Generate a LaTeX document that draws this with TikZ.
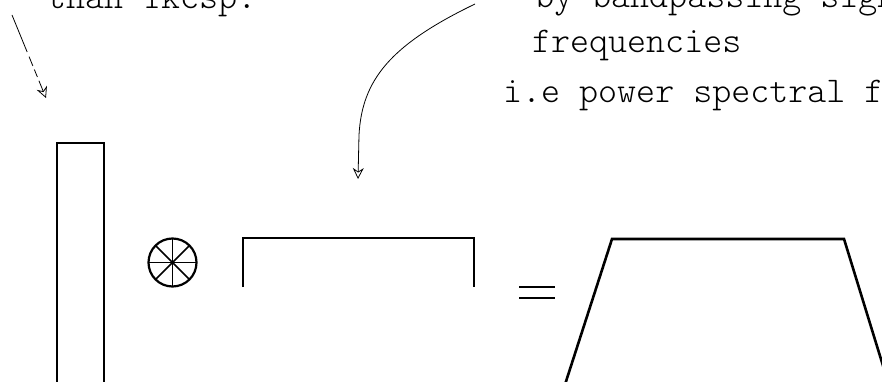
\documentclass[tikz,border=0pt]{standalone}
\usepackage{tikz}
\usetikzlibrary{
  arrows.meta,
  positioning
}

\begin{document}
\begin{tikzpicture}[x=1pt, y=-1pt,
    every node/.style={font=\ttfamily\fontseries{l}\fontsize{36.2}{40}\selectfont, inner sep=0pt, anchor=base west},
    shape line/.style={line width=2.2pt, line cap=butt},
    note arrow/.style={line width=0.8pt, -{Stealth[open, length=11pt, width=11pt]}}]
                    \useasboundingbox (0,0) rectangle (882,382);
                    \clip (0,0) rectangle (882,382);
                    
                    % Cut-off note text
                    \node (textA) at (47,9) {than 1kcsp.};
                    \node (textB) at (535,8) {by bandpassing signal};
                    \node (textC) at (532,53) {frequencies};
                    \node (textD) at (503,103) {i.e power spectral freq};
                    
                    % Arrow ends
                    \coordinate (leftStart) at (12,15);
                    \coordinate (leftEnd) at (46,98);
                    \coordinate (curveStart) at (475,4);
                    \coordinate (curveBend) at (359,135);
                    \coordinate (curveEnd) at (358,179);
                    
                    % Note arrows
                    \draw[note arrow, dash pattern=on 40pt off 5pt on 10pt off 4pt on 8pt off 4pt] (leftStart) -- (leftEnd);
                    \draw[note arrow] (curveStart) .. controls (390,45) and (362,80) .. (curveBend) -- (curveEnd);
                    
                    % Tall pulse
                    \draw[shape line] (57,392) -- (57,143) -- (104,143) -- (104,392);
                    
                    % Convolution sign
                    \coordinate (conv) at (172.5,262.5);
                    \draw[shape line] (conv) circle[radius=24];
                    \foreach \ang in {0,45,...,315}
                      \draw[line width=1.5pt] (conv) -- ++(\ang:24);
                    
                    % Wide pulse
                    \draw[shape line] (243,287) -- (243,238) -- (474,238) -- (474,287);
                    
                    % Equals
                    \draw[line width=2.4pt] (519,287) -- (555,287);
                    \draw[line width=2.4pt] (519,298) -- (555,298);
                    
                    % Trapezoid result
                    \draw[line width=2.6pt, line join=miter] (560,400) -- (612,239) -- (844,239) -- (888,382);
                \end{tikzpicture}
\end{document}
